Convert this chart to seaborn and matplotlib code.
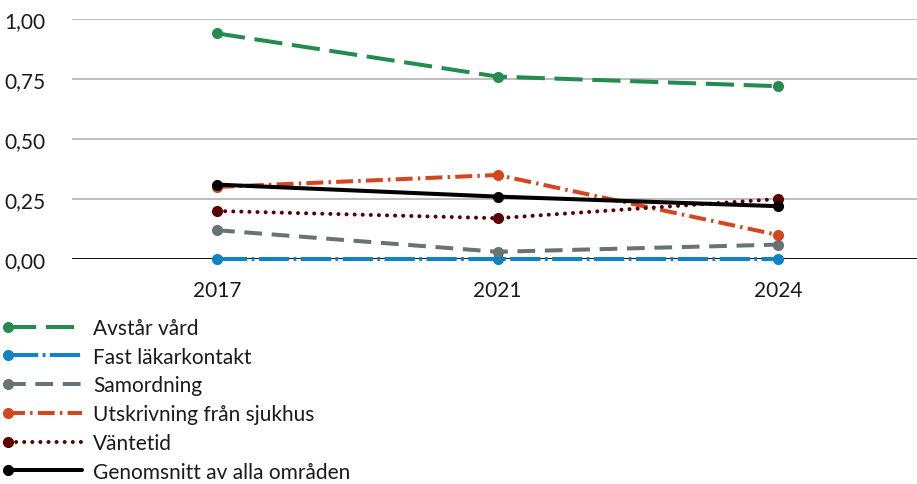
import numpy as np
import pandas as pd
import seaborn as sns
from matplotlib import pyplot as plt
from matplotlib.legend_handler import HandlerLine2D
from matplotlib.ticker import FuncFormatter, MultipleLocator

# values
years = ['2017', '2021', '2024']
avstar_vard = [0.94, 0.76, 0.72]
fast_lakarkontakt = [0.0, 0.0, 0.0]
samordning = [0.12, 0.03, 0.06]
utskrivning = [0.30, 0.35, 0.10]
vantetid = [0.20, 0.17, 0.25]
genomsnitt = [0.31, 0.26, 0.22]

series = ['Avstår vård', 'Fast läkarkontakt', 'Samordning',
          'Utskrivning från sjukhus', 'Väntetid', 'Genomsnitt av alla områden']
values = [avstar_vard, fast_lakarkontakt, samordning, utskrivning, vantetid, genomsnitt]

colors = {'Avstår vård': '#268b4e',
          'Fast läkarkontakt': '#0e83c6',
          'Samordning': '#687375',
          'Utskrivning från sjukhus': '#d5461f',
          'Väntetid': '#5a0000',
          'Genomsnitt av alla områden': '#000000'}
dashes = {'Avstår vård': (7.0, 2.4),
          'Fast läkarkontakt': (7.5, 1.1, 0.7, 1.1),
          'Samordning': (4.4, 2.4),
          'Utskrivning från sjukhus': (4.2, 1.3, 0.6, 1.3),
          'Väntetid': (0.01, 2.0),
          'Genomsnitt av alla områden': ''}

rows = []
for name, vals in zip(series, values):
    for yr, v in zip(years, vals):
        rows.append({'År': yr, 'Värde': v, 'Område': name})
df = pd.DataFrame(rows)

sns.set_style('white')
plt.rcParams['font.family'] = ['Lato', 'DejaVu Sans']

fig = plt.figure(figsize=(9.17, 4.85), dpi=100)
ax = fig.add_axes([72 / 917, 225 / 485, 845 / 917, 240 / 485])

sns.lineplot(data=df, x='År', y='Värde', hue='Område', style='Område',
             palette=colors, dashes=dashes, markers={s: 'o' for s in series},
             hue_order=series, style_order=series, sort=False,
             linewidth=2.9, markersize=8, markeredgewidth=0,
             legend=False, ax=ax)

for line in ax.lines:
    line.set_clip_on(False)
    line.set_zorder(3)
# dotted line needs round caps
ax.lines[4].set_dash_capstyle('round')

ax.set_ylim(0, 1.0)
ax.set_xlim(-0.517, 2.495)
ax.yaxis.set_major_locator(MultipleLocator(0.25))
ax.yaxis.set_major_formatter(FuncFormatter(lambda v, p: f'{v:.2f}'.replace('.', ',')))
ax.grid(axis='y', color='#b3b3b3', linewidth=1.2)
ax.axhline(0, color='#000000', linewidth=2, zorder=2)
for sp in ax.spines.values():
    sp.set_visible(False)
ax.tick_params(axis='both', length=0, labelsize=15, colors='#1a1a1a')
ax.tick_params(axis='y', pad=19)
ax.tick_params(axis='x', pad=15)
ax.set_xlabel('')
ax.set_ylabel('')


class LeftMarker(HandlerLine2D):
    # marker at the left end of the handle, like the original
    def create_artists(self, *args, **kwargs):
        arts = super().create_artists(*args, **kwargs)
        arts[0].set_markevery([0])
        return arts


handles = list(ax.lines[:len(series)])
leg = fig.legend(handles, series, loc='upper left',
                 bbox_to_anchor=(8 / 917, (485 - 319) / 485),
                 frameon=False, fontsize=15, handlelength=3.55,
                 handletextpad=0.53, labelspacing=0.42, borderpad=0,
                 borderaxespad=0, numpoints=1,
                 handler_map={h: LeftMarker(numpoints=1) for h in handles})
for t in leg.get_texts():
    t.set_color('#1a1a1a')

fig.savefig('out.png', dpi=100)
